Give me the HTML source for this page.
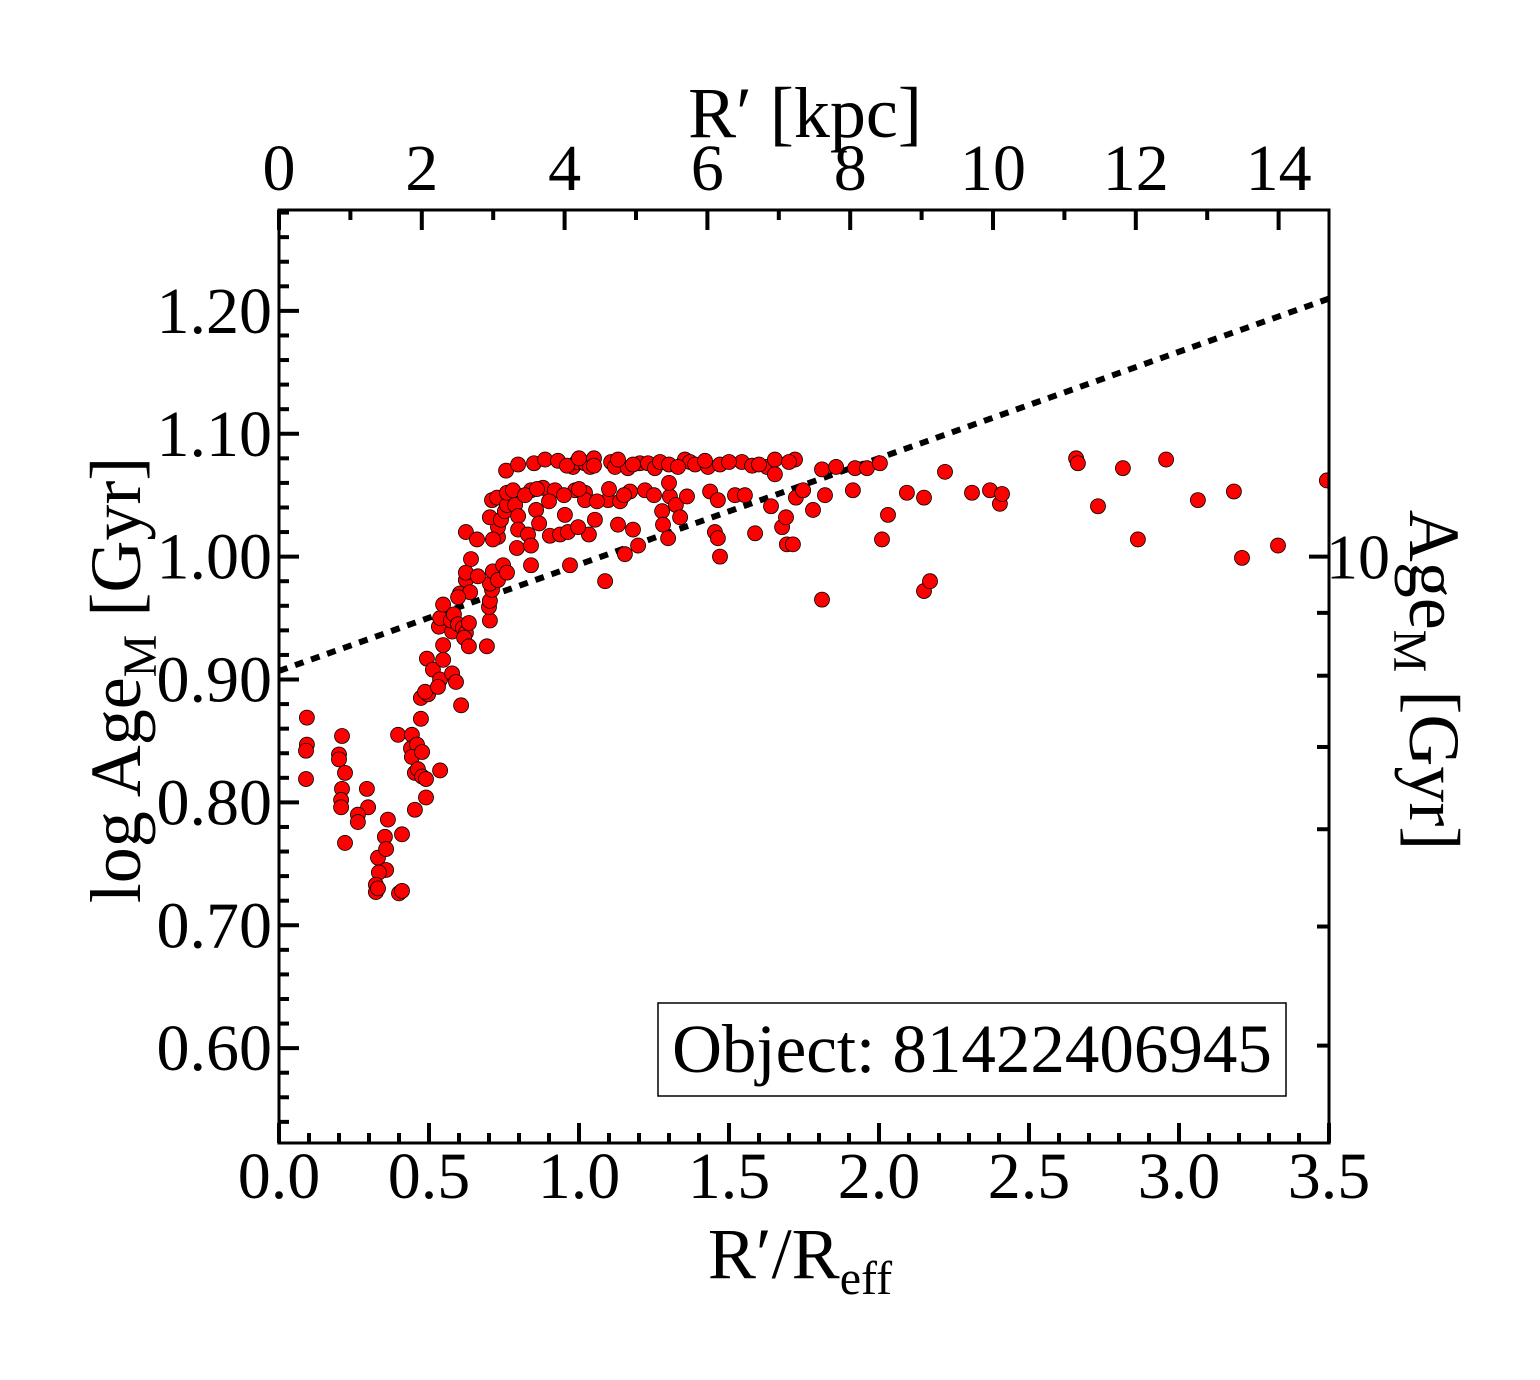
<!DOCTYPE html>
<html><head><meta charset="utf-8"><style>
body{margin:0;background:#fff}
svg text{font-family:"Liberation Serif",serif;fill:#000}
</style></head><body>
<svg id="c" width="1540" height="1375" viewBox="0 0 1540 1375" xmlns="http://www.w3.org/2000/svg"></svg>
<script>
const xs=[.093,.093,.09,.09,.21,.2,.2,.22,.21,.207,.207,.22,.293,.297,.263,.263,.363,.353,.33,.357,.357,.333,.323,.323,.33,.4,.41,.41,.397,.443,.44,.46,.443,.453,.477,.463,.477,.537,.49,.453,.49,.473,.473,.497,.487,.493,.513,.537,.53,.577,.59,.607,.547,.547,.533,.537,.547,.577,.573,.583,.597,.613,.623,.617,.633,.633,.603,.623,.623,.637,.597,.64,.703,.693,.7,.703,.71,.703,.713,.73,.623,.66,.663,.73,.73,.703,.71,.727,.713,.74,.753,.76,.747,.76,.757,.797,.76,.78,.787,.797,.797,.793,.84,.84,.85,.83,.84,.857,.867,.88,.887,.903,.92,.937,.953,.963,.97,.98,.987,1.02,.993,1.02,1.037,1.05,1.02,1.053,1.033,.997,1.087,1.097,1.107,1.12,1.137,1.13,1.153,1.163,1.17,1.18,1.197,1.203,1.22,1.23,1.253,1.27,1.277,1.28,1.297,1.303,1.323,1.337,1.353,1.36,1.37,1.387,1.43,1.437,1.453,1.463,1.47,1.47,1.463,1.52,1.543,1.553,1.577,1.587,1.627,1.64,1.653,1.653,1.677,1.69,1.693,1.713,1.723,1.72,1.747,1.78,1.81,1.82,1.81,1.857,1.913,1.92,1.96,2.003,2.01,2.03,2.093,2.15,2.15,2.17,2.22,2.31,2.37,2.403,2.41,2.657,2.663,2.73,2.813,2.863,2.957,3.063,3.183,3.21,3.33,3.493,.82,.86,.9,.95,1.0,1.06,1.1,1.15,1.25,1.3,.93,.96,1.0,1.05,1.13,1.18,1.3,1.33,1.42,1.5,1.6,1.7];
const ys=[.869,.847,.842,.819,.854,.839,.835,.824,.811,.802,.796,.767,.811,.796,.79,.784,.786,.772,.755,.762,.745,.743,.733,.727,.73,.726,.728,.774,.855,.855,.844,.847,.837,.824,.841,.827,.821,.826,.819,.794,.804,.868,.885,.888,.89,.917,.908,.9,.894,.905,.898,.879,.916,.928,.943,.95,.961,.939,.948,.953,.945,.942,.938,.934,.927,.946,.97,.981,.987,.971,.967,.998,.948,.927,.959,.964,.973,.978,.988,.981,1.02,1.014,.984,1.016,1.024,1.032,1.046,1.048,1.014,1.03,1.037,1.042,.993,.987,1.07,1.075,1.052,1.054,1.042,1.033,1.022,1.007,.993,1.054,1.076,1.018,1.009,1.038,1.027,1.056,1.079,1.017,1.054,1.018,1.034,1.02,.993,1.073,1.054,1.052,1.077,1.076,1.073,1.08,1.046,1.03,1.018,1.024,.98,1.046,1.077,1.073,1.045,1.026,1.002,1.072,1.053,1.022,1.009,1.076,1.054,1.076,1.072,1.077,1.037,1.026,1.015,1.049,1.042,1.032,1.079,1.049,1.077,1.075,1.073,1.053,1.02,1.015,1.0,1.075,1.046,1.05,1.077,1.05,1.074,1.019,1.073,1.041,1.079,1.067,1.024,1.032,1.01,1.01,1.048,1.079,1.054,1.038,1.071,1.05,.965,1.073,1.054,1.072,1.072,1.076,1.014,1.034,1.052,1.048,.972,.98,1.069,1.052,1.054,1.043,1.051,1.08,1.076,1.041,1.072,1.014,1.079,1.046,1.053,.999,1.009,1.062,1.05,1.055,1.045,1.05,1.055,1.045,1.055,1.05,1.05,1.06,1.078,1.074,1.08,1.074,1.079,1.075,1.075,1.073,1.078,1.077,1.075,1.077];
const fitX=[0,3.5], fitY=[.907,1.21];
const bottomTicks=["0.0","0.5","1.0","1.5","2.0","2.5","3.0","3.5"];
const topTicks=["0","2","4","6","8","10","12","14"];
const leftTicks=["0.60","0.70","0.80","0.90","1.00","1.10","1.20"];
const rightAges=[4,5,6,7,8,9,10];

const L=279,R=1329,T=210,B=1143;
const X0=0,X1=3.5,Y0=0.5228,Y1=1.2821;
const sx=v=>L+(v-X0)/(X1-X0)*(R-L);
const sy=v=>B-(v-Y0)/(Y1-Y0)*(B-T);
const kx=v=>L+v*71.4;
const NS="http://www.w3.org/2000/svg";
const svg=document.getElementById('c');
function mk(t,a,p){const e=document.createElementNS(NS,t);for(const k in a)e.setAttribute(k,a[k]);(p||svg).appendChild(e);return e;}

const clip=mk('clipPath',{id:'cp'});mk('rect',{x:L,y:T,width:R-L,height:B-T},clip);
const fit=mk('line',{x1:sx(fitX[0]),y1:sy(fitY[0]),x2:sx(fitX[1]),y2:sy(fitY[1]),stroke:'#000','stroke-width':6,'stroke-dasharray':'9 8','clip-path':'url(#cp)'});


const g=mk('g',{'clip-path':'url(#cp)'});


for(let i=0;i<xs.length;i++){
  const c=mk('circle',{cx:sx(xs[i]),cy:sy(ys[i]),r:7.5,fill:'#ff0000',stroke:'#000','stroke-width':0.8},g);
  
  
}
const fr=mk('rect',{x:L,y:T,width:R-L,height:B-T,fill:'none',stroke:'#000','stroke-width':3});


const tk=mk('g',{stroke:'#000','stroke-width':4});


for(let i=0;i<=35;i++){const v=i/10,x=sx(v),len=i%5==0?20:10;mk('line',{x1:x,y1:B,x2:x,y2:B-len},tk);}
for(let k=0;k<=14;k++){const x=kx(k),len=k%2==0?20:10;mk('line',{x1:x,y1:T,x2:x,y2:T+len},tk);}
for(let i=27;i<=64;i++){const v=i/50;if(v<Y0||v>Y1)continue;const y=sy(v),len=i%5==0?20:10;mk('line',{x1:L,y1:y,x2:L+len,y2:y},tk);}
rightAges.forEach(a=>{const y=sy(Math.log10(a));mk('line',{x1:R,y1:y,x2:R-(a==10?20:12),y2:y},tk);});
bottomTicks.forEach(s=>{const t=mk('text',{x:sx(+s),y:1198,'font-size':66,'text-anchor':'middle'});t.textContent=s;
});
topTicks.forEach(s=>{const t=mk('text',{x:kx(+s),y:190,'font-size':66,'text-anchor':'middle'});t.textContent=s;
});
leftTicks.forEach(s=>{const t=mk('text',{x:272,y:sy(+s)+22,'font-size':66,'text-anchor':'end'});t.textContent=s;
});
const r10=mk('text',{x:1326,y:sy(1)+22,'font-size':64});r10.textContent='10';

</script>
<svg width="1540" height="1375" style="position:absolute;left:0;top:0" xmlns="http://www.w3.org/2000/svg">
<text x="805" y="137" font-size="72" text-anchor="middle" font-family="Liberation Serif,serif">R′ [kpc]</text>
<text x="800" y="1278" font-size="72" text-anchor="middle" font-family="Liberation Serif,serif">R′/R<tspan font-size="48" dy="16">eff</tspan></text>
<text transform="translate(140,680) rotate(-90)" font-size="72" text-anchor="middle" font-family="Liberation Serif,serif">log Age<tspan font-size="48" dy="16">M</tspan><tspan dy="-16"> [Gyr]</tspan></text>
<text transform="translate(1410,680) rotate(90)" font-size="72" text-anchor="middle" font-family="Liberation Serif,serif">Age<tspan font-size="48" dy="16">M</tspan><tspan dy="-16"> [Gyr]</tspan></text>
<g>
<rect x="658" y="1003" width="628" height="93" fill="#fff" stroke="#000" stroke-width="1.5"/>
<text x="972" y="1072" font-size="69" text-anchor="middle" font-family="Liberation Serif,serif">Object: 81422406945</text>
</g>
</svg>
</body></html>
